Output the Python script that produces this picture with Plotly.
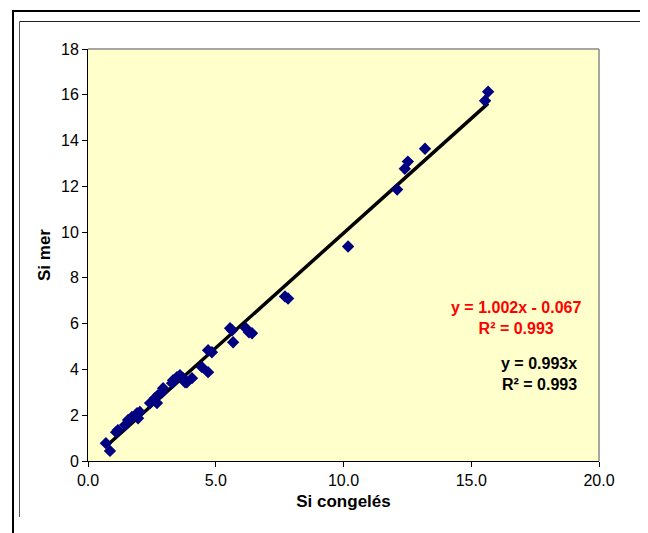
import plotly.graph_objects as go

# ---- data ----
si_congeles = [0.70, 0.86, 1.10, 1.17, 1.45, 1.57, 1.72, 1.92, 1.96, 2.03, 2.43, 2.62, 2.70,
               2.74, 2.90, 2.94, 3.29, 3.33, 3.48, 3.60, 3.72, 3.80, 3.87, 4.07, 4.46, 4.70,
               4.70, 4.85, 5.56, 5.64, 5.68, 6.18, 6.30, 6.42, 7.71, 7.83, 10.18, 12.10,
               12.40, 12.52, 13.19, 15.54, 15.66]
si_mer = [0.78, 0.44, 1.26, 1.35, 1.57, 1.79, 1.92, 2.09, 1.87, 2.14, 2.53, 2.75, 2.53,
          2.88, 3.00, 3.18, 3.40, 3.53, 3.66, 3.75, 3.62, 3.44, 3.44, 3.62, 4.10, 3.88,
          4.84, 4.75, 5.80, 5.71, 5.19, 5.80, 5.62, 5.58, 7.19, 7.10, 9.37, 11.86,
          12.77, 13.08, 13.64, 15.74, 16.13]
fit_slope = 1.002
fit_intercept = -0.067
x_ticks = [0, 5, 10, 15, 20]
y_ticks = [0, 2, 4, 6, 8, 10, 12, 14, 16, 18]
eq_red = ["y = 1.002x - 0.067", "R² = 0.993"]
eq_black = ["y = 0.993x", "R² = 0.993"]

OFF = 8  # page body margin
W, H = 648 - OFF, 533 - OFF
# plot area in page pixels
L, R, T, B = 88, 599, 49, 461


def px(x):
    return (x - L) / (R - L)


def py(y):
    return (B - y) / (B - T)


fig = go.Figure()

xmin, xmax = min(si_congeles), max(si_congeles)
fig.add_trace(go.Scatter(
    x=[xmin, xmax],
    y=[fit_slope * xmin + fit_intercept, fit_slope * xmax + fit_intercept],
    mode="lines", line=dict(color="black", width=3.5), hoverinfo="skip",
))
fig.add_trace(go.Scatter(
    x=si_congeles, y=si_mer, mode="markers",
    marker=dict(symbol="diamond", size=9.5, color="#000080",
                line=dict(width=0)),
))

font = "Liberation Sans, Arial, sans-serif"

fig.update_layout(
    width=W, height=H,
    margin=dict(l=L - OFF, r=W + OFF - R, t=T - OFF, b=H + OFF - B),
    paper_bgcolor="white",
    plot_bgcolor="#FFFFCC",
    showlegend=False,
    font=dict(family=font, size=16, color="black"),
    xaxis=dict(range=[0, 20], tickvals=x_ticks, tickformat=".1f",
               showgrid=False, zeroline=False, showline=True,
               linecolor="black", linewidth=1, ticks="outside",
               ticklen=5, tickcolor="black", mirror=False,
               title=dict(text="<b>Si congelés</b>", standoff=6,
                          font=dict(size=17))),
    yaxis=dict(range=[0, 18], tickvals=y_ticks,
               showgrid=False, zeroline=False, showline=True,
               linecolor="black", linewidth=1, ticks="outside",
               ticklen=5, tickcolor="black",
               title=dict(text="<b>Si mer</b>", standoff=6,
                          font=dict(size=17))),
)

shapes = []
# grey border on top/right of plot area
shapes.append(dict(type="line", xref="paper", yref="paper", x0=0, x1=1, y0=1, y1=1,
                   line=dict(color="#888888", width=1.5)))
shapes.append(dict(type="line", xref="paper", yref="paper", x0=1, x1=1, y0=0, y1=1,
                   line=dict(color="#888888", width=1.5)))
# outer frame (top and left)
shapes.append(dict(type="line", xref="paper", yref="paper", x0=px(12), x1=px(660),
                   y0=py(11), y1=py(11), line=dict(color="black", width=2)))
shapes.append(dict(type="line", xref="paper", yref="paper", x0=px(13), x1=px(13),
                   y0=py(10), y1=py(545), line=dict(color="black", width=2)))
# inner frame (top, left, right)
shapes.append(dict(type="line", xref="paper", yref="paper", x0=px(19.5), x1=px(643.5),
                   y0=py(21.5), y1=py(21.5), line=dict(color="#222222", width=1)))
shapes.append(dict(type="line", xref="paper", yref="paper", x0=px(19.5), x1=px(19.5),
                   y0=py(21.5), y1=py(517), line=dict(color="#555555", width=1)))
shapes.append(dict(type="line", xref="paper", yref="paper", x0=px(643.5), x1=px(643.5),
                   y0=py(21.5), y1=py(517), line=dict(color="#222222", width=1)))
fig.update_layout(shapes=shapes)

annotations = [
    dict(text="<b>" + "<br>".join(eq_red) + "</b>", x=px(516), y=py(318),
         xref="paper", yref="paper", showarrow=False, align="center",
         xanchor="center", yanchor="middle",
         font=dict(color="#FF0000", size=16, family=font)),
    dict(text="<b>" + "<br>".join(eq_black) + "</b>", x=px(579), y=py(374),
         xref="paper", yref="paper", showarrow=False, align="right",
         xanchor="right", yanchor="middle",
         font=dict(color="black", size=16, family=font)),
]
fig.update_layout(annotations=annotations)

fig.write_html("out.html")
